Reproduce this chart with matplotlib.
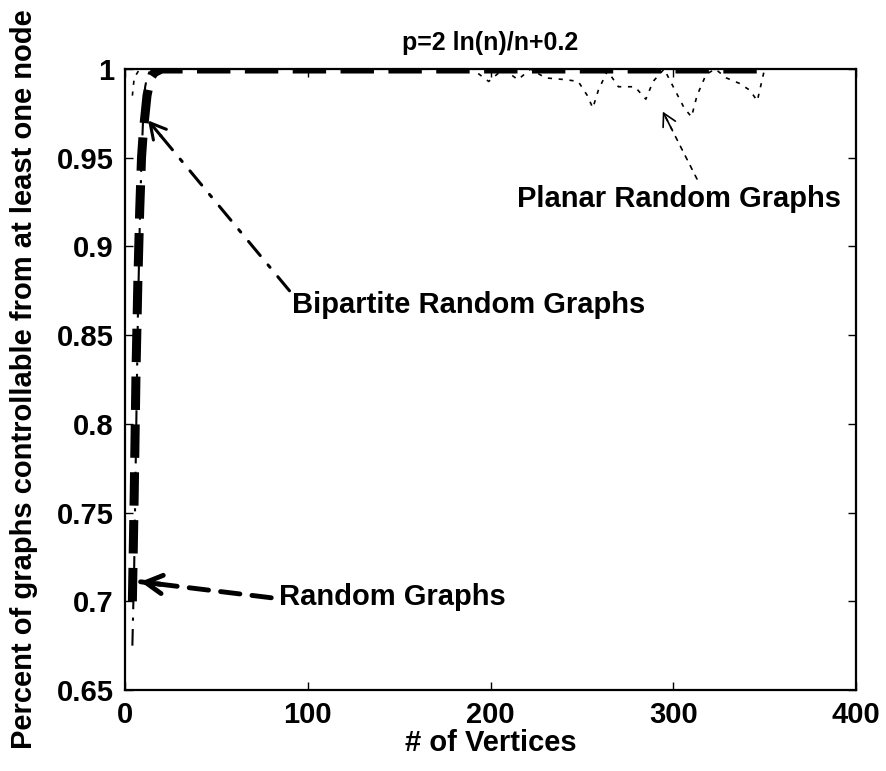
import matplotlib
matplotlib.use("Agg")
import matplotlib.pyplot as plt

plt.rcParams['font.family'] = ['Liberation Sans', 'DejaVu Sans']
plt.rcParams['font.weight'] = 'bold'

# number of vertices / fraction controllable
random_n = [4, 5, 6, 7, 8, 9, 10, 11, 12, 13, 14, 16, 20, 350]
random_p = [0.70, 0.76, 0.83, 0.88, 0.92, 0.95, 0.965, 0.975, 0.985, 0.99,
            0.995, 0.998, 1.0, 1.0]

bipartite_n = [4, 5, 6, 7, 8, 9, 10, 11, 12, 14, 350]
bipartite_p = [0.675, 0.72, 0.79, 0.86, 0.91, 0.95, 0.975, 0.99, 0.995,
               1.0, 1.0]

planar_n = [4, 5, 8, 190, 199, 207, 215, 222, 230, 241, 248, 253, 256, 259,
            264, 270, 279, 285, 289, 295, 300, 306, 310, 313, 318, 323, 329,
            336, 342, 346, 350]
planar_p = [0.985, 0.995, 1.0, 1.0, 0.993, 1.0, 0.994, 1.0, 0.995, 0.994,
            0.993, 0.985, 0.978, 0.988, 0.999, 0.99, 0.99, 0.983, 0.993, 1.0,
            0.99, 0.978, 0.973, 0.985, 0.997, 1.0, 0.995, 0.992, 0.988,
            0.982, 1.0]

x_ticks = [0, 100, 200, 300, 400]
y_ticks = [0.65, 0.7, 0.75, 0.8, 0.85, 0.9, 0.95, 1.0]
y_tick_labels = ['0.65', '0.7', '0.75', '0.8', '0.85', '0.9', '0.95', '1']

fig = plt.figure(figsize=(8.87, 7.71), dpi=100)
ax = fig.add_axes([0.141, 0.105, 0.824, 0.8055])

ax.plot(planar_n, planar_p, color='black', lw=1.2, ls=(0, (2.5, 4)))
ax.plot(bipartite_n, bipartite_p, color='black', lw=1.5, ls=(0, (8, 4, 1.5, 4)))
ax.plot(random_n, random_p, color='black', lw=6.5, ls='--')

ax.set_xlim(0, 400)
ax.set_ylim(0.65, 1.0)
ax.set_xticks(x_ticks)
ax.set_yticks(y_ticks)
ax.set_yticklabels(y_tick_labels)
ax.tick_params(direction='in', top=True, right=True, length=6, width=1,
               labelsize=21, pad=8)
for s in ax.spines.values():
    s.set_linewidth(1.6)

ax.set_title('p=2 ln(n)/n+0.2', fontsize=18, fontweight='bold', pad=14)
ax.set_xlabel('# of Vertices', fontsize=21, fontweight='bold', labelpad=0)
ax.set_ylabel('Percent of graphs controllable from at least one node',
              fontsize=21, fontweight='bold', labelpad=14)


def arrow(tail, tip, ls, lw, head):
    # dashed shaft
    ax.annotate('', xy=tip, xytext=tail,
                arrowprops=dict(arrowstyle='-', ls=ls, lw=lw, color='black',
                                shrinkA=0, shrinkB=0))
    # solid head on a short piece next to the tip
    x0, y0 = ax.transData.transform(tail)
    x1, y1 = ax.transData.transform(tip)
    d = ((x1 - x0) ** 2 + (y1 - y0) ** 2) ** 0.5
    bx = x1 - (x1 - x0) / d * 20
    by = y1 - (y1 - y0) / d * 20
    base = ax.transData.inverted().transform((bx, by))
    ax.annotate('', xy=tip, xytext=base,
                arrowprops=dict(arrowstyle='->,head_length=%g,head_width=%g'
                                % (head, head * 0.55),
                                lw=lw, color='black', shrinkA=0, shrinkB=0))


arrow((80, 0.702), (8.5, 0.711), (0, (4, 2.5)), 3.5, 1.2)
arrow((90, 0.875), (12.6, 0.971), (0, (6, 4, 1, 4)), 2.2, 1.1)
arrow((313, 0.938), (294.3, 0.976), (0, (2.5, 4)), 1.2, 0.9)

txt = dict(fontsize=21, fontweight='bold', va='center', ha='left')
ax.text(84, 0.7024, 'Random Graphs', **txt)
ax.text(91.4, 0.867, 'Bipartite Random Graphs', **txt)
ax.text(214.4, 0.927, 'Planar Random Graphs', **txt)

fig.savefig('out.png', dpi=100)
